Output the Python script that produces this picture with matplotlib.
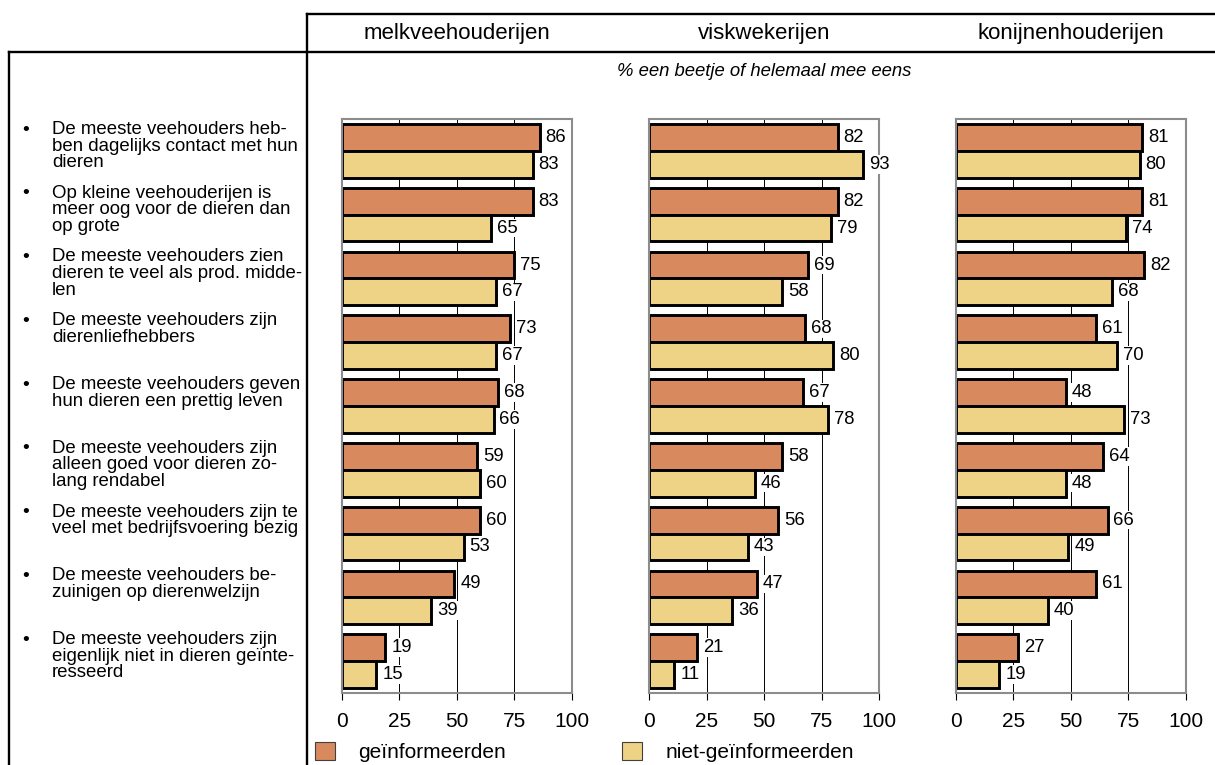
import numpy as np
import matplotlib
matplotlib.use("Agg")
import matplotlib.pyplot as plt
import matplotlib.patches as mpatches
import matplotlib.transforms as mtransforms
from matplotlib.lines import Line2D

plt.rcParams["font.family"] = ["Liberation Sans", "DejaVu Sans"]

# ── data ───────────────────────────────────────────────────────────────────────
statements = [
    "De meeste veehouders heb-\nben dagelijks contact met hun\ndieren",
    "Op kleine veehouderijen is\nmeer oog voor de dieren dan\nop grote",
    "De meeste veehouders zien\ndieren te veel als prod. midde-\nlen",
    "De meeste veehouders zijn\ndierenliefhebbers",
    "De meeste veehouders geven\nhun dieren een prettig leven",
    "De meeste veehouders zijn\nalleen goed voor dieren zo-\nlang rendabel",
    "De meeste veehouders zijn te\nveel met bedrijfsvoering bezig",
    "De meeste veehouders be-\nzuinigen op dierenwelzijn",
    "De meeste veehouders zijn\neigenlijk niet in dieren geïnte-\nresseerd",
]

panels = ["melkveehouderijen", "viskwekerijen", "konijnenhouderijen"]

informed_melk = [86, 83, 75, 73, 68, 59, 60, 49, 19]
uninformed_melk = [83, 65, 67, 67, 66, 60, 53, 39, 15]

informed_vis = [82, 82, 69, 68, 67, 58, 56, 47, 21]
uninformed_vis = [93, 79, 58, 80, 78, 46, 43, 36, 11]

informed_konijn = [81, 81, 82, 61, 48, 64, 66, 61, 27]
uninformed_konijn = [80, 74, 68, 70, 73, 48, 49, 40, 19]

series_labels = ["geïnformeerden", "niet-geïnformeerden"]
x_ticks = [0, 25, 50, 75, 100]
subtitle = "% een beetje of helemaal mee eens"

ORANGE = "#D8895E"
YELLOW = "#EED285"
SPINE = "#8C8C8C"

W, H = 1215, 765
fig = plt.figure(figsize=(W / 100, H / 100), dpi=100)

panel_data = [
    (informed_melk, uninformed_melk),
    (informed_vis, uninformed_vis),
    (informed_konijn, uninformed_konijn),
]
lefts_px = [341.7, 649.0, 955.7]
width_px = 230.0
top_px, bottom_px = 119.0, 693.0

y = np.arange(len(statements))
bar_h = 0.42
axes = []


def label_bars(ax, ys, vals):
    for yy, v in zip(ys, vals):
        ax.annotate(str(v), xy=(v, yy), xytext=(6, 0), textcoords="offset pixels",
                    ha="left", va="center", fontsize=13.3, zorder=3,
                    bbox=dict(fc="white", ec="none", pad=0.5))


# ── panels ─────────────────────────────────────────────────────────────────────
for left, title, (inf, uninf) in zip(lefts_px, panels, panel_data):
    ax = fig.add_axes([left / W, 1 - bottom_px / H,
                       width_px / W, (bottom_px - top_px) / H])
    axes.append(ax)
    ax.barh(y - bar_h / 2, inf, height=bar_h, color=ORANGE,
            edgecolor="black", linewidth=2.1, zorder=2)
    ax.barh(y + bar_h / 2, uninf, height=bar_h, color=YELLOW,
            edgecolor="black", linewidth=2.1, zorder=2)
    label_bars(ax, y - bar_h / 2, inf)
    label_bars(ax, y + bar_h / 2, uninf)

    ax.set_xlim(0, 100)
    ax.set_ylim(len(statements) - 0.5, -0.5)
    ax.set_xticks(x_ticks)
    ax.set_yticks([])
    ax.tick_params(axis="x", direction="out", length=5, width=0.8,
                   color="black", labelsize=15, pad=9)
    for s in ax.spines.values():
        s.set_color(SPINE)
        s.set_linewidth(1.5)
    ax.set_axisbelow(True)
    ax.xaxis.grid(True, color="black", linewidth=0.7)

    cx = (left + width_px / 2) / W
    fig.text(cx, 1 - 33 / H, title, ha="center", va="center", fontsize=16)

fig.text((lefts_px[1] + width_px / 2) / W, 1 - 72 / H, subtitle,
         ha="center", va="center", fontsize=13.3, style="italic")

# ── statements on the left ─────────────────────────────────────────────────────
trans = mtransforms.blended_transform_factory(fig.transFigure, axes[0].transData)
for i, txt in enumerate(statements):
    fig.text(26 / W, i - 0.46, "•", transform=trans, ha="center", va="top",
             fontsize=14)
    fig.text(52 / W, i - 0.47, txt, transform=trans, ha="left", va="top",
             fontsize=13.4, linespacing=0.97)

# ── table frame ────────────────────────────────────────────────────────────────
lw = 1.7
frame = [
    ([307 / W, 1.0], [1 - 14 / H, 1 - 14 / H]),
    ([307 / W, 307 / W], [1 - 14 / H, 0.0]),
    ([9 / W, 1.0], [1 - 52 / H, 1 - 52 / H]),
    ([9 / W, 9 / W], [1 - 52 / H, 0.0]),
]
for xs, ys in frame:
    fig.add_artist(Line2D(xs, ys, transform=fig.transFigure,
                          color="black", linewidth=lw))

# ── legend ─────────────────────────────────────────────────────────────────────
handles = [mpatches.Patch(facecolor=ORANGE, edgecolor="#404040", linewidth=0.8),
           mpatches.Patch(facecolor=YELLOW, edgecolor="#404040", linewidth=0.8)]
fig.legend(handles, series_labels, loc="center left",
           bbox_to_anchor=(315 / W, 1 - 752 / H), ncol=2, frameon=False,
           fontsize=15, handlelength=0.96, handleheight=0.96,
           handletextpad=1.1, columnspacing=5.6, borderpad=0, borderaxespad=0)

fig.savefig("out.png", dpi=100)
